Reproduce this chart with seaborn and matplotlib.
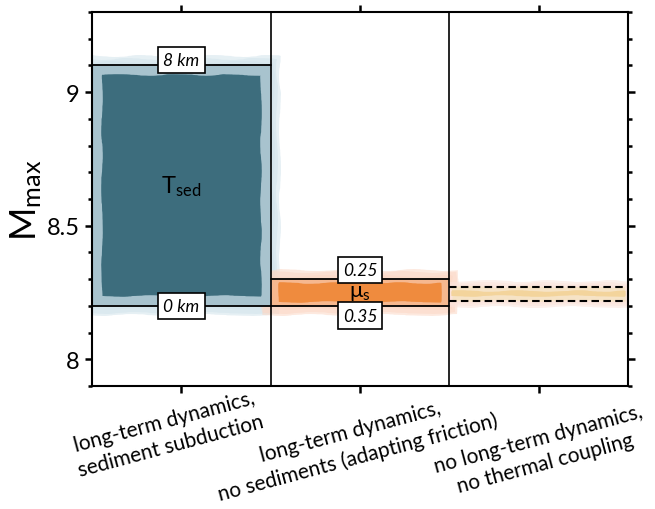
import numpy as np
import matplotlib
matplotlib.use("Agg")
import matplotlib.pyplot as plt
import matplotlib.transforms as mtransforms
import seaborn as sns

# ---- data ----
categories = ["long-term dynamics,\nsediment subduction",
              "long-term dynamics,\nno sediments (adapting friction)",
              "no long-term dynamics,\nno thermal coupling"]
lower = [8.2, 8.2, 8.22]
upper = [9.1, 8.3, 8.27]
label_upper = ["8 km", "0.25", None]
label_lower = ["0 km", "0.35", None]
param_names = [r"$\mathregular{T_{sed}}$", r"$\mathregular{\mu_s}$", None]

core_colors = ["#3d6d7d", "#ef8b3e", "#f3d49c"]
mid_colors = ["#a8c3ce", "#f6b88f", "#f6e3c6"]
halo_colors = ["#d3e4ec", "#fcd8c6", "#fbe4dc"]

sns.set_theme(style="ticks")
plt.rcParams["font.family"] = ["Lato", "DejaVu Sans"]
plt.rcParams["mathtext.fontset"] = "custom"
plt.rcParams["mathtext.rm"] = "Lato"
plt.rcParams["mathtext.it"] = "Lato:italic"
plt.rcParams["text.color"] = "black"
plt.rcParams["xtick.labelcolor"] = "black"
plt.rcParams["ytick.labelcolor"] = "black"

fig = plt.figure(figsize=(6.55, 5.10), dpi=100)
ax = fig.add_axes([0.1405, 0.2412, 0.8183, 0.7333])

x = np.arange(len(categories))
heights = [u - l for u, l in zip(upper, lower)]

# soft halo (outer, several translucent layers)
for i in range(3):
    if i < 2:
        grow_y, grow_x = [0.07, 0.05, 0.025], [1.1, 1.07, 1.035]
    else:
        grow_y, grow_x = [0.045, 0.03, 0.015], [1.0, 1.0, 1.0]
    for gy, gx in zip(grow_y, grow_x):
        bars = ax.bar(x[i], heights[i] + gy, bottom=lower[i] - gy / 2, width=gx,
                      color=halo_colors[i], alpha=0.55, zorder=1, linewidth=0)
        for b in bars:
            b.set_sketch_params(scale=1.0, length=150, randomness=10)

# mid layer
for i in range(3):
    w = 1.0 if i < 2 else 0.97
    bars = ax.bar(x[i], heights[i], bottom=lower[i], width=w,
                  color=mid_colors[i], zorder=2, linewidth=0)
    for b in bars:
        b.set_sketch_params(scale=0.8, length=150, randomness=10)

# core layer
for i in range(3):
    if i == 0:
        inset, w = 0.035, 0.89
    elif i == 1:
        inset, w = 0.015, 0.91
    else:
        inset, w = 0.015, 0.97
    bars = ax.bar(x[i], heights[i] - 2 * inset, bottom=lower[i] + inset, width=w,
                  color=core_colors[i], zorder=3, linewidth=0)
    for b in bars:
        b.set_sketch_params(scale=0.8, length=150, randomness=10)

# boundary lines
for i in range(3):
    ls = "-" if i < 2 else (0, (3.6, 2.1))
    lw = 1.3 if i < 2 else 1.5
    for yv in (lower[i], upper[i]):
        ax.plot([x[i] - 0.5, x[i] + 0.5], [yv, yv], color="black", lw=lw,
                ls=ls, zorder=5)

for xv in (0.5, 1.5):
    ax.axvline(xv, color="black", lw=1.2, zorder=5)

box = dict(boxstyle="square,pad=0.3", fc="white", ec="black", lw=1.2)
# vertical offsets (points) of the value boxes relative to their lines
off_upper = [4, 6.5, 0]
off_lower = [0, -7, 0]
for i in range(3):
    if label_upper[i]:
        ax.annotate(label_upper[i], (x[i], upper[i]), xytext=(0, off_upper[i]),
                    textcoords="offset points", ha="center", va="center",
                    fontsize=12.5, style="italic", bbox=box, zorder=6)
    if label_lower[i]:
        ax.annotate(label_lower[i], (x[i], lower[i]), xytext=(0, off_lower[i]),
                    textcoords="offset points", ha="center", va="center",
                    fontsize=12.5, style="italic", bbox=box, zorder=6)
    if param_names[i]:
        ax.text(x[i], (upper[i] + lower[i]) / 2, param_names[i], ha="center",
                va="center", fontsize=17 if i == 0 else 16, color="black",
                zorder=6)

ax.set_xlim(-0.5, 2.5)
ax.set_ylim(7.9, 9.3)
ax.set_xticks(x)
ax.set_xticklabels(categories, rotation=15, ha="center", fontsize=15,
                   linespacing=1.35, color="black")
ax.set_yticks([8, 8.5, 9])
ax.set_yticklabels(["8", "8.5", "9"], fontsize=17, color="black")
ax.set_yticks(np.arange(7.9, 9.31, 0.1), minor=True)
ax.set_ylabel(r"$\mathregular{M_{max}}$", fontsize=26, labelpad=2, color="black")

for s in ax.spines.values():
    s.set_linewidth(1.5)
    s.set_color("black")
    s.set_visible(True)
ax.tick_params(which="major", direction="out", length=5, width=1.8,
               top=True, right=True, color="black", pad=4)
ax.tick_params(axis="x", which="major", pad=-6)
ax.tick_params(which="minor", direction="out", length=3, width=1.8,
               left=True, right=True, color="black")
ax.tick_params(axis="x", which="minor", bottom=False, top=False)

# small nudges of the rotated category labels (pixels: right, down)
nudges = [(-14, 2), (-6, 0), (3, 16)]
for lab, (dx, dy) in zip(ax.get_xticklabels(), nudges):
    lab.set_transform(lab.get_transform() +
                      mtransforms.ScaledTranslation(dx / 100, -dy / 100,
                                                    fig.dpi_scale_trans))

fig.savefig("out.png", dpi=100)
